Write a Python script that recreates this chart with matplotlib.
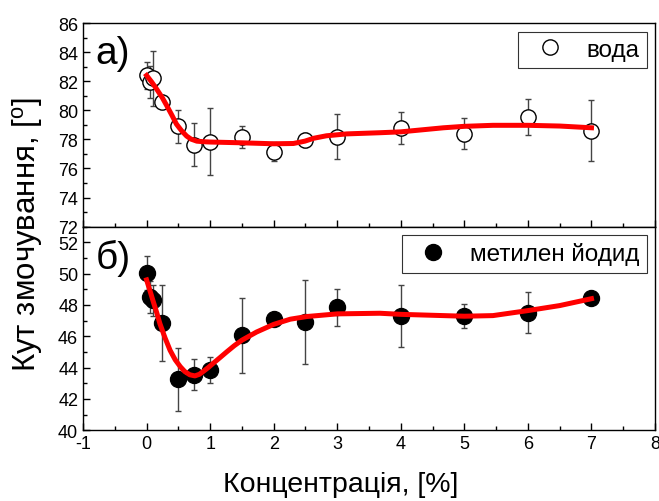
import matplotlib.pyplot as plt
from matplotlib.lines import Line2D
from matplotlib.ticker import MultipleLocator

plt.rcParams['font.family'] = ['Liberation Sans', 'DejaVu Sans']
plt.rcParams['mathtext.fontset'] = 'custom'
plt.rcParams['mathtext.rm'] = 'Liberation Sans'
plt.rcParams['axes.unicode_minus'] = False

# water (top panel)
conc_water = [0, 0.05, 0.1, 0.25, 0.5, 0.75, 1, 1.5, 2, 2.5, 3, 4, 5, 6, 7]
angle_water = [82.4, 81.95, 82.2, 80.6, 78.9, 77.65, 77.85, 78.15, 77.15, 77.95, 78.2, 78.8, 78.4, 79.55, 78.6]
err_water = [0.9, 1.1, 1.9, 0.3, 1.15, 1.5, 2.3, 0.75, 0.65, 0.5, 1.55, 1.1, 1.05, 1.25, 2.1]

fit_water_x = [0, 0.08, 0.16, 0.25, 0.32, 0.4, 0.47, 0.55, 0.63, 0.7, 0.79, 0.9, 1.0, 1.47, 2.0,
               2.31, 2.49, 2.63, 2.83, 3.15, 3.67, 4.0, 4.67, 5.0, 5.45, 6.0, 6.5, 7.0]
fit_water_y = [82.4, 81.95, 81.45, 80.85, 80.3, 79.65, 79.05, 78.6, 78.23, 78.02, 77.88, 77.84, 77.82, 77.77, 77.7,
               77.72, 77.88, 78.08, 78.25, 78.38, 78.46, 78.52, 78.8, 78.9, 78.97, 78.97, 78.92, 78.8]

# methylene iodide (bottom panel)
conc_mi = [0, 0.05, 0.1, 0.25, 0.5, 0.75, 1, 1.5, 2, 2.5, 3, 4, 5, 6, 7]
angle_mi = [50.05, 48.5, 48.3, 46.85, 43.25, 43.55, 43.85, 46.05, 47.1, 46.9, 47.85, 47.3, 47.3, 47.5, 48.45]
err_mi = [1.1, 1.0, 1.0, 2.4, 2.0, 1.0, 0.85, 2.4, 0.2, 2.7, 1.2, 2.0, 0.75, 1.3, 0.2]

fit_mi_x = [0, 0.05, 0.1, 0.16, 0.21, 0.29, 0.37, 0.45, 0.53, 0.6, 0.68, 0.76, 0.83, 0.89, 0.97, 1.05,
            1.15, 1.26, 1.38, 1.5, 1.73, 2.0, 2.26, 2.52, 3.0, 3.67, 4.0, 5.0, 5.45, 6.0, 6.5, 7.0]
fit_mi_y = [49.6, 48.95, 48.28, 47.5, 46.8, 45.9, 45.1, 44.5, 44.06, 43.75, 43.54, 43.47, 43.57, 43.75, 44.0, 44.28,
            44.62, 45.0, 45.4, 45.75, 46.27, 46.76, 47.09, 47.26, 47.43, 47.47, 47.4, 47.28, 47.32, 47.64, 47.96, 48.4]

fig, (ax1, ax2) = plt.subplots(2, 1, figsize=(6.59, 5.02), dpi=100, sharex=True)
fig.subplots_adjust(left=0.126, right=0.994, top=0.952, bottom=0.141, hspace=0)

ax1.errorbar(conc_water, angle_water, yerr=err_water, fmt='o', mfc='white', mec='black', ms=11,
             mew=1.0, ecolor='#444444', elinewidth=1.0, capsize=2.5, zorder=3)
ax1.plot(fit_water_x, fit_water_y, color='red', lw=3.6, zorder=4)

ax2.errorbar(conc_mi, angle_mi, yerr=err_mi, fmt='o', mfc='black', mec='black', ms=11.5,
             ecolor='#444444', elinewidth=1.0, capsize=2.5, zorder=3)
ax2.plot(fit_mi_x, fit_mi_y, color='red', lw=3.6, zorder=4)

ax1.set_ylim(72, 86)
ax2.set_ylim(40, 53)
ax2.set_xlim(-1, 8)

ax1.yaxis.set_major_locator(MultipleLocator(2))
ax1.yaxis.set_minor_locator(MultipleLocator(1))
ax2.yaxis.set_major_locator(MultipleLocator(2))
ax2.yaxis.set_minor_locator(MultipleLocator(1))
ax2.xaxis.set_major_locator(MultipleLocator(1))
ax2.xaxis.set_minor_locator(MultipleLocator(0.5))

for ax in (ax1, ax2):
    ax.tick_params(which='both', direction='in', top=False, right=False, labelsize=13, width=1)
    ax.tick_params(which='major', length=5)
    ax.tick_params(which='minor', length=3)
    for s in ax.spines.values():
        s.set_linewidth(1)
ax1.tick_params(axis='x', which='both', labelbottom=False)

ax1.text(0.022, 0.94, 'а)', transform=ax1.transAxes, fontsize=28, va='top', ha='left')
ax2.text(0.022, 0.94, 'б)', transform=ax2.transAxes, fontsize=28, va='top', ha='left')

h1 = Line2D([], [], ls='none', marker='o', mfc='white', mec='black', ms=11, mew=1.0)
h2 = Line2D([], [], ls='none', marker='o', mfc='black', mec='black', ms=11.5)
for ax, h, lab in ((ax1, h1, 'вода'), (ax2, h2, 'метилен йодид')):
    leg = ax.legend([h], [lab], loc='upper right', fontsize=17.5, frameon=True, fancybox=False,
                    handletextpad=0.5, borderaxespad=0.35, borderpad=0.3, handlelength=2.0)
    leg.get_frame().set_edgecolor('black')
    leg.get_frame().set_linewidth(0.8)

ax2.set_xlabel('Концентрація, [%]', fontsize=20.5)
ax2.xaxis.set_label_coords(0.45, -0.2)
fig.text(0.041, 0.533, 'Кут змочування, [$^\\mathrm{o}$]', rotation=90, fontsize=22.5, ha='center', va='center')

plt.savefig('out.png', dpi=100)
